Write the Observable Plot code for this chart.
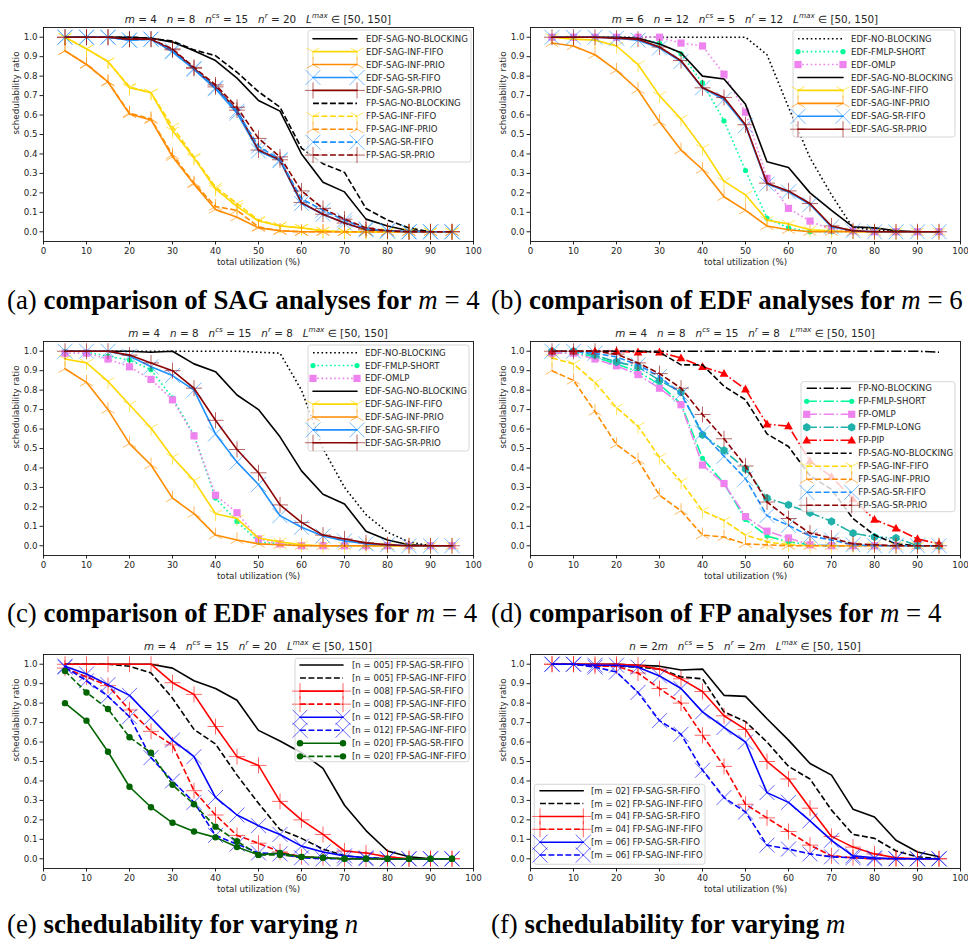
<!DOCTYPE html>
<html><head><meta charset="utf-8">
<script src="https://cdn.jsdelivr.net/npm/d3@7"></script>
<script src="https://cdn.jsdelivr.net/npm/@observablehq/plot@0.6"></script>
<style>
body{margin:0;background:#fff;}
#root{position:relative;width:968px;height:942px;overflow:hidden;background:#fff;}
#root svg{position:absolute;}
</style></head>
<body><div id="root"></div>
<script>
// ---------------- data ----------------
const util = [5,10,15,20,25,30,35,40,45,50,55,60,65,70,75,80,85,90,95];
const xTicks = [0,10,20,30,40,50,60,70,80,90,100];
const yTicks = [0,0.1,0.2,0.3,0.4,0.5,0.6,0.7,0.8,0.9,1.0];
const xLabel = "total utilization (%)";
const yLabel = "schedulability ratio";

// (a)
const aLabels = ["EDF-SAG-NO-BLOCKING","EDF-SAG-INF-FIFO","EDF-SAG-INF-PRIO","EDF-SAG-SR-FIFO","EDF-SAG-SR-PRIO","FP-SAG-NO-BLOCKING","FP-SAG-INF-FIFO","FP-SAG-INF-PRIO","FP-SAG-SR-FIFO","FP-SAG-SR-PRIO"];
const aValues = [
  [1,1,1,1,0.995,0.975,0.93,0.88,0.79,0.675,0.62,0.40,0.255,0.205,0.065,0.03,0.005,0,0],
  [1,0.94,0.875,0.74,0.715,0.52,0.38,0.22,0.13,0.055,0.03,0.02,0.005,0,0,0,0,0,0],
  [0.93,0.86,0.77,0.605,0.575,0.385,0.245,0.115,0.075,0.02,0.005,0,0,0,0,0,0,0,0],
  [1,1,1,0.985,0.99,0.925,0.835,0.735,0.61,0.415,0.365,0.145,0.09,0.045,0.01,0.005,0,0,0],
  [1,1,1,0.99,0.99,0.935,0.84,0.745,0.625,0.42,0.37,0.15,0.09,0.045,0.01,0.003,0,0,0],
  [1,1,1,1,0.995,0.98,0.935,0.905,0.82,0.72,0.64,0.43,0.35,0.305,0.12,0.06,0.02,0,0],
  [1,0.94,0.875,0.745,0.715,0.54,0.385,0.23,0.145,0.06,0.03,0.02,0.005,0,0,0,0,0,0],
  [0.93,0.86,0.77,0.61,0.58,0.395,0.25,0.13,0.11,0.025,0.005,0,0,0,0,0,0,0,0],
  [1,1,1,0.985,0.99,0.93,0.84,0.74,0.62,0.44,0.37,0.17,0.11,0.06,0.015,0.005,0,0,0],
  [1,1,1,0.99,0.99,0.94,0.845,0.755,0.64,0.48,0.385,0.21,0.12,0.065,0.02,0.005,0,0,0]
];
// (b)
const bLabels = ["EDF-NO-BLOCKING","EDF-FMLP-SHORT","EDF-OMLP","EDF-SAG-NO-BLOCKING","EDF-SAG-INF-FIFO","EDF-SAG-INF-PRIO","EDF-SAG-SR-FIFO","EDF-SAG-SR-PRIO"];
const bValues = [
  [1,1,1,1,1,1,1,1,1,1,0.91,0.64,0.38,0.19,0.02,0.01,0,0,0],
  [1,1,1,1,0.995,0.97,0.915,0.765,0.57,0.315,0.07,0.02,0,0,0,0,0,0,0],
  [1,1,1,1,1,1,0.97,0.955,0.81,0.615,0.275,0.12,0.055,0.01,0.005,0,0,0,0],
  [1,1,1,1,0.995,0.965,0.92,0.80,0.785,0.655,0.36,0.33,0.20,0.11,0.025,0.02,0.005,0,0],
  [1,0.99,0.985,0.955,0.86,0.70,0.58,0.43,0.26,0.19,0.06,0.04,0.01,0.005,0,0,0,0,0],
  [0.97,0.955,0.91,0.83,0.73,0.565,0.42,0.32,0.18,0.11,0.03,0.01,0,0,0,0,0,0,0],
  [1,1,1,0.995,0.985,0.945,0.875,0.74,0.68,0.545,0.245,0.205,0.14,0.025,0.005,0,0,0,0],
  [1,1,1,0.995,0.99,0.95,0.88,0.74,0.69,0.55,0.25,0.21,0.145,0.03,0.005,0,0,0,0]
];
// (c)
const cLabels = ["EDF-NO-BLOCKING","EDF-FMLP-SHORT","EDF-OMLP","EDF-SAG-NO-BLOCKING","EDF-SAG-INF-FIFO","EDF-SAG-INF-PRIO","EDF-SAG-SR-FIFO","EDF-SAG-SR-PRIO"];
const cValues = [
  [1,1,1,1,1,1,1,1,1,0.995,0.99,0.80,0.50,0.30,0.16,0.07,0.02,0,0],
  [1,0.995,0.975,0.955,0.905,0.76,0.57,0.245,0.125,0.02,0.01,0,0,0,0,0,0,0,0],
  [0.99,0.99,0.96,0.92,0.855,0.75,0.565,0.26,0.17,0.035,0.01,0,0,0,0,0,0,0,0],
  [1,1,1,1,0.995,1,0.935,0.895,0.775,0.70,0.56,0.385,0.265,0.215,0.075,0.03,0.005,0,0],
  [0.96,0.94,0.845,0.725,0.605,0.455,0.335,0.165,0.14,0.04,0.02,0.005,0,0,0,0,0,0,0],
  [0.91,0.84,0.70,0.525,0.415,0.245,0.165,0.055,0.03,0.01,0.005,0,0,0,0,0,0,0,0],
  [1,1,1,0.975,0.92,0.875,0.80,0.575,0.43,0.315,0.155,0.095,0.05,0.025,0.01,0.005,0,0,0],
  [1,1,1,0.98,0.94,0.90,0.81,0.645,0.495,0.375,0.21,0.12,0.055,0.035,0.015,0.005,0,0,0]
];
// (d)
const dLabels = ["FP-NO-BLOCKING","FP-FMLP-SHORT","FP-OMLP","FP-FMLP-LONG","FP-PIP","FP-SAG-NO-BLOCKING","FP-SAG-INF-FIFO","FP-SAG-INF-PRIO","FP-SAG-SR-FIFO","FP-SAG-SR-PRIO"];
const dValues = [
  [1,1,1,1,1,1,1,1,1,1,1,1,1,1,1,1,1,1,0.995],
  [0.99,0.995,0.97,0.935,0.895,0.83,0.73,0.45,0.32,0.135,0.05,0.02,0.005,0,0,0,0,0,0],
  [0.99,0.99,0.96,0.925,0.88,0.81,0.725,0.415,0.32,0.15,0.075,0.04,0.005,0,0,0,0,0,0],
  [1,1,0.98,0.945,0.92,0.85,0.79,0.57,0.49,0.395,0.245,0.21,0.17,0.125,0.065,0.045,0.04,0,0],
  [1,1,1,1,0.995,0.995,0.965,0.92,0.885,0.805,0.625,0.615,0.435,0.355,0.24,0.135,0.09,0.035,0.01],
  [1,1,1,1,1,0.995,0.93,0.93,0.82,0.75,0.575,0.51,0.36,0.29,0.14,0.055,0.01,0,0],
  [0.965,0.935,0.84,0.71,0.615,0.455,0.33,0.18,0.13,0.055,0.02,0.005,0,0,0,0,0,0,0],
  [0.90,0.85,0.69,0.52,0.44,0.26,0.18,0.055,0.045,0.01,0.005,0,0,0,0,0,0,0,0],
  [1,1,0.99,0.97,0.93,0.87,0.78,0.58,0.46,0.345,0.155,0.105,0.05,0.03,0.005,0,0,0,0],
  [1,1,1,0.985,0.94,0.885,0.81,0.675,0.55,0.41,0.225,0.14,0.065,0.04,0.01,0.005,0,0,0]
];
// (e)
const eLabels = ["[n = 005] FP-SAG-SR-FIFO","[n = 005] FP-SAG-INF-FIFO","[n = 008] FP-SAG-SR-FIFO","[n = 008] FP-SAG-INF-FIFO","[n = 012] FP-SAG-SR-FIFO","[n = 012] FP-SAG-INF-FIFO","[n = 020] FP-SAG-SR-FIFO","[n = 020] FP-SAG-INF-FIFO"];
const eValues = [
  [1,1,1,1,1,0.98,0.915,0.875,0.815,0.66,0.605,0.545,0.465,0.275,0.145,0.04,0.01,0,0],
  [1,1,1,0.99,0.955,0.825,0.665,0.59,0.43,0.285,0.15,0.105,0.05,0.015,0.005,0,0,0,0],
  [1,1,1,1,1,0.905,0.845,0.68,0.525,0.48,0.295,0.20,0.125,0.04,0.03,0.01,0,0,0],
  [0.98,0.935,0.89,0.765,0.655,0.585,0.35,0.225,0.12,0.08,0.035,0.01,0.005,0,0,0,0,0,0],
  [0.99,0.95,0.895,0.84,0.725,0.61,0.525,0.315,0.225,0.17,0.125,0.065,0.035,0.015,0.005,0,0,0,0],
  [0.985,0.915,0.835,0.73,0.52,0.40,0.29,0.12,0.075,0.03,0.025,0.005,0,0,0,0,0,0,0],
  [0.80,0.71,0.55,0.37,0.265,0.185,0.14,0.11,0.06,0.02,0.03,0.01,0.005,0,0,0,0,0,0],
  [0.965,0.855,0.77,0.625,0.545,0.38,0.28,0.165,0.09,0.02,0.02,0.01,0.005,0,0,0,0,0,0]
];
// (f)
const fLabels = ["[m = 02] FP-SAG-SR-FIFO","[m = 02] FP-SAG-INF-FIFO","[m = 04] FP-SAG-SR-FIFO","[m = 04] FP-SAG-INF-FIFO","[m = 06] FP-SAG-SR-FIFO","[m = 06] FP-SAG-INF-FIFO"];
const fValues = [
  [1,1,1,1,0.995,0.99,0.97,0.975,0.84,0.835,0.72,0.61,0.49,0.43,0.255,0.215,0.095,0.035,0.01],
  [1,1,0.99,0.99,0.985,0.975,0.935,0.925,0.755,0.705,0.60,0.475,0.41,0.25,0.125,0.105,0.04,0.01,0],
  [1,1,1,1,0.995,0.975,0.925,0.86,0.735,0.665,0.50,0.41,0.26,0.115,0.06,0.025,0.005,0,0],
  [1,1,0.99,0.99,0.955,0.875,0.80,0.635,0.475,0.28,0.21,0.14,0.07,0.015,0.005,0,0,0,0],
  [1,1,0.995,0.995,0.985,0.94,0.875,0.755,0.675,0.60,0.34,0.29,0.195,0.095,0.015,0.005,0,0,0],
  [1,1,0.985,0.96,0.855,0.71,0.64,0.455,0.315,0.24,0.07,0.05,0.025,0.01,0.005,0,0,0,0]
];

const titles = [
  "m = 4   n = 8   n^{cs} = 15   n^{r} = 20   L^{max} ∈ [50, 150]",
  "m = 6   n = 12   n^{cs} = 5   n^{r} = 12   L^{max} ∈ [50, 150]",
  "m = 4   n = 8   n^{cs} = 15   n^{r} = 8   L^{max} ∈ [50, 150]",
  "m = 4   n = 8   n^{cs} = 15   n^{r} = 8   L^{max} ∈ [50, 150]",
  "m = 4   n^{cs} = 15   n^{r} = 20   L^{max} ∈ [50, 150]",
  "n = 2m   n^{cs} = 5   n^{r} = 2m   L^{max} ∈ [50, 150]"
];
const capTags = ["(a)","(b)","(c)","(d)","(e)","(f)"];
const capTexts = ["comparison of SAG analyses for","comparison of EDF analyses for","comparison of EDF analyses for","comparison of FP analyses for","schedulability for varying","schedulability for varying"];
const capMath = ["m = 4","m = 6","m = 4","m = 4","n","m"];

// ---------------- styles ----------------
const LW = 1.6;
const DASH = {solid: null, dashed: `${3.7*LW},${1.6*LW}`, dotted: `${1*LW},${1.65*LW}`, dashdot: `${6.4*LW},${1.6*LW},${1*LW},${1.6*LW}`};
const rOf = size => Math.sqrt(size / Math.PI);
const SYM = {
  triDown: {draw(c, s){const r=rOf(s); c.moveTo(0,0);c.lineTo(0,r);c.moveTo(0,0);c.lineTo(-r*0.866,-r*0.5);c.moveTo(0,0);c.lineTo(r*0.866,-r*0.5);}},
  triUp: {draw(c, s){const r=rOf(s); c.moveTo(0,0);c.lineTo(0,-r);c.moveTo(0,0);c.lineTo(-r*0.866,r*0.5);c.moveTo(0,0);c.lineTo(r*0.866,r*0.5);}},
  times: {draw(c, s){const r=rOf(s); c.moveTo(-r,-r);c.lineTo(r,r);c.moveTo(-r,r);c.lineTo(r,-r);}},
  plus: {draw(c, s){const r=rOf(s); c.moveTo(-r,0);c.lineTo(r,0);c.moveTo(0,-r);c.lineTo(0,r);}},
  square: {draw(c, s){const r=rOf(s); c.rect(-r,-r,2*r,2*r);}},
  circle: {draw(c, s){const r=rOf(s); c.moveTo(r,0); c.arc(0,0,r,0,2*Math.PI); c.closePath();}},
  hexagon: {draw(c, s){const r=rOf(s); for(let k=0;k<6;k++){const a=Math.PI/2+k*Math.PI/3; const px=r*Math.cos(a), py=r*Math.sin(a); k?c.lineTo(px,py):c.moveTo(px,py);} c.closePath();}},
  triangle: {draw(c, s){const r=rOf(s); c.moveTo(0,-r); c.lineTo(r*0.95,r*0.7); c.lineTo(-r*0.95,r*0.7); c.closePath();}}
};
const MARK = {
  triDown: {sym: SYM.triDown, r: 7.5, filled: false},
  triUp: {sym: SYM.triUp, r: 7.5, filled: false},
  times: {sym: SYM.times, r: 7.5, filled: false},
  plus: {sym: SYM.plus, r: 8, filled: false},
  square: {sym: SYM.square, r: 3.6, filled: true},
  smallDot: {sym: SYM.circle, r: 2.6, filled: true},
  hexagon: {sym: SYM.hexagon, r: 4.2, filled: true},
  triangle: {sym: SYM.triangle, r: 4.6, filled: true},
  dot: {sym: SYM.circle, r: 3.2, filled: true}
};
const KIND = {
  "NO-BLOCKING": {color: "#000000", marker: null},
  "INF-FIFO": {color: "#FFD700", marker: "triDown"},
  "INF-PRIO": {color: "#FF8C00", marker: "triUp"},
  "SR-FIFO": {color: "#1E90FF", marker: "times"},
  "SR-PRIO": {color: "#8B0000", marker: "plus"},
  "FMLP-SHORT": {color: "#00FA9A", marker: "smallDot"},
  "OMLP": {color: "#EE82EE", marker: "square"},
  "FMLP-LONG": {color: "#20B2AA", marker: "hexagon"},
  "PIP": {color: "#FF0000", marker: "triangle"}
};
const GROUP = {
  n005: {color: "#000000", marker: null}, n008: {color: "#FF0000", marker: "plus"},
  n012: {color: "#0000FF", marker: "times"}, n020: {color: "#006400", marker: "dot"},
  m02: {color: "#000000", marker: null}, m04: {color: "#FF0000", marker: "plus"},
  m06: {color: "#0000FF", marker: "times"}
};
function styleFor(name) {
  const g = name.match(/^\[(n|m) = (\d+)\] FP-SAG-(SR|INF)-FIFO$/);
  if (g) return {...GROUP[g[1] + g[2]], dash: g[3] === "SR" ? DASH.solid : DASH.dashed};
  const sag = name.includes("-SAG-"), edf = name.startsWith("EDF");
  const dash = sag ? (edf ? DASH.solid : DASH.dashed) : (edf ? DASH.dotted : DASH.dashdot);
  return {...KIND[name.replace(/^(EDF|FP)-(SAG-)?/, "")], dash};
}

// ---------------- layout ----------------
const W = 484, H = 275, ML = 43, MR = 11, MT = 27, MB = 34;
const panels = [
  {labels: aLabels, values: aValues, left: 0, top: 0,
   leg: {x0:308, x1:471, y0:30, y1:162, row0:38.7, step:12.93, h0:313, h1:357, tx:366}},
  {labels: bLabels, values: bValues, left: 487, top: 0,
   leg: {x0:306, x1:468, y0:30, y1:137, row0:38.7, step:12.93, h0:311, h1:356, tx:364}},
  {labels: cLabels, values: cValues, left: 0, top: 314,
   leg: {x0:308, x1:469, y0:31, y1:137, row0:38.7, step:12.86, h0:313, h1:357, tx:365}},
  {labels: dLabels, values: dValues, left: 487, top: 314,
   leg: {x0:314, x1:468, y0:67.7, y1:197.7, row0:74.3, step:13, h0:319.7, h1:364.7, tx:371.3}},
  {labels: eLabels, values: eValues, left: 0, top: 627,
   leg: {x0:295, x1:469, y0:31.3, y1:134.7, row0:38, step:13.05, h0:300, h1:343, tx:352}},
  {labels: fLabels, values: fValues, left: 487, top: 627,
   leg: {x0:47.3, x1:218, y0:157.3, y1:237.3, row0:163.7, step:12.87, h0:53, h1:96.3, tx:104}}
];
const root = document.getElementById("root");
const FONT = "DejaVu Sans";
const TXT = "#262626";

function seriesMarks(labels, values) {
  const marks = [];
  labels.forEach((name, i) => {
    const st = styleFor(name);
    const pts = util.map((x, j) => ({x, y: values[i][j]}));
    marks.push(Plot.line(pts, {x: "x", y: "y", stroke: st.color, strokeWidth: LW,
      strokeDasharray: st.dash || undefined, strokeLinecap: st.dash ? "butt" : "round", strokeLinejoin: "round"}));
    if (st.marker) {
      const mk = MARK[st.marker];
      marks.push(Plot.dot(pts, {x: "x", y: "y", symbol: mk.sym, r: mk.r,
        fill: mk.filled ? st.color : "none", stroke: mk.filled ? "none" : st.color,
        strokeWidth: 1, strokeOpacity: 0.6}));
    }
  });
  return marks;
}

function drawLegend(svg, labels, L) {
  const g = d3.select(svg).append("g").attr("font-family", FONT).attr("font-size", "8.6px").attr("text-anchor", "start");
  g.append("rect").attr("x", L.x0).attr("y", L.y0).attr("width", L.x1 - L.x0).attr("height", L.y1 - L.y0)
    .attr("rx", 2.5).attr("fill", "white").attr("fill-opacity", 0.8).attr("stroke", "#cccccc").attr("stroke-width", 0.8);
  labels.forEach((name, i) => {
    const st = styleFor(name);
    const y = L.row0 + i * L.step;
    g.append("line").attr("x1", L.h0).attr("x2", L.h1).attr("y1", y).attr("y2", y)
      .attr("stroke", st.color).attr("stroke-width", LW).attr("stroke-dasharray", st.dash)
      .attr("stroke-linecap", st.dash ? "butt" : "round");
    if (st.marker) {
      const mk = MARK[st.marker];
      for (const hx of [L.h0, L.h1]) {
        g.append("path").attr("transform", `translate(${hx},${y})`)
          .attr("d", d3.symbol(mk.sym, mk.r * mk.r * Math.PI)())
          .attr("fill", mk.filled ? st.color : "none").attr("stroke", mk.filled ? "none" : st.color)
          .attr("stroke-width", 1).attr("stroke-opacity", 0.6);
      }
    }
    g.append("text").attr("x", L.tx).attr("y", y).attr("dy", "0.35em").attr("text-anchor", "start").attr("fill", TXT).text(name);
  });
}

panels.forEach((p) => {
  const svg = Plot.plot({
    width: W, height: H, marginLeft: ML, marginRight: MR, marginTop: MT, marginBottom: MB,
    style: {fontFamily: FONT, fontSize: "8.7px", color: TXT, background: "transparent", overflow: "visible"},
    x: {domain: [0, 100]},
    y: {domain: [-0.05, 1.05]},
    marks: [
      Plot.axisX({ticks: xTicks, tickSize: 3.5, tickPadding: 2.5, tickFormat: d => String(d), label: null, stroke: "#222"}),
      Plot.axisY({ticks: yTicks, tickSize: 3.5, tickPadding: 2.5, tickFormat: d3.format(".1f"), label: null, stroke: "#222"}),
      Plot.text([xLabel], {frameAnchor: "bottom", dy: 23, text: d => d, fontSize: 8.7, fill: TXT}),
      Plot.text([yLabel], {frameAnchor: "left", dx: -27, rotate: -90, text: d => d, fontSize: 8.7, fill: TXT}),
      ...seriesMarks(p.labels, p.values),
      Plot.frame({stroke: "#111", strokeWidth: 0.9})
    ]
  });
  svg.style.left = p.left + "px";
  svg.style.top = p.top + "px";
  root.appendChild(svg);
  drawLegend(svg, p.labels, p.leg);
});

// ---------------- titles and captions (overlay) ----------------
const ov = d3.select(root).append("svg").attr("width", 968).attr("height", 942)
  .style("left", "0px").style("top", "0px").style("pointer-events", "none");

function segs(str) {
  const out = [];
  const push = (t, it, sup) => { const l = out[out.length - 1]; if (l && l.it === it && l.sup === sup) l.t += t; else out.push({t, it, sup}); };
  for (let i = 0; i < str.length;) {
    if (str[i] === "^" && str[i + 1] === "{") { const j = str.indexOf("}", i); push(str.slice(i + 2, j), true, true); i = j + 1; continue; }
    const c = str[i]; push(c === " " ? "\u00A0" : c, /[A-Za-z]/.test(c), false); i++;
  }
  return out;
}
function mathInto(text, str, size, weight) {
  let shifted = false;
  for (const s of segs(str)) {
    const ts = text.append("tspan").text(s.t).attr("font-style", s.it ? "italic" : "normal").attr("font-weight", weight);
    if (s.sup) { ts.attr("font-size", size * 0.7); if (!shifted) { ts.attr("dy", -size * 0.4); shifted = true; } }
    else if (shifted) { ts.attr("dy", size * 0.4); shifted = false; }
  }
}
const TITLE_SIZE = 10.4;
panels.forEach((p, i) => {
  const cx = p.left + ML + (W - ML - MR) / 2;
  const t = ov.append("text").attr("x", cx).attr("y", p.top + MT - 4.5).attr("text-anchor", "middle")
    .attr("font-family", FONT).attr("font-size", TITLE_SIZE).attr("fill", TXT);
  mathInto(t, titles[i], TITLE_SIZE, "normal");
});

const CAPFONT = "Liberation Serif";
const capPos = [[7, 309], [491, 309], [7, 622], [491, 622], [7, 933], [491, 933]];
function caption(i, size) {
  const t = ov.append("text").attr("x", capPos[i][0]).attr("y", capPos[i][1])
    .attr("font-family", CAPFONT).attr("font-size", size).attr("fill", "#000");
  t.append("tspan").text(capTags[i] + "\u00A0");
  t.append("tspan").attr("font-weight", "bold").text(capTexts[i] + "\u00A0");
  mathInto(t, capMath[i], size, "normal");
  return t;
}
// fit font size so caption (a) spans the same width as in the reference
const probe = caption(0, 24);
const wA = probe.node().getComputedTextLength();
probe.remove();
const capSize = 24 * 473 / wA;
capTags.forEach((_, i) => caption(i, capSize));
</script>
</body></html>
